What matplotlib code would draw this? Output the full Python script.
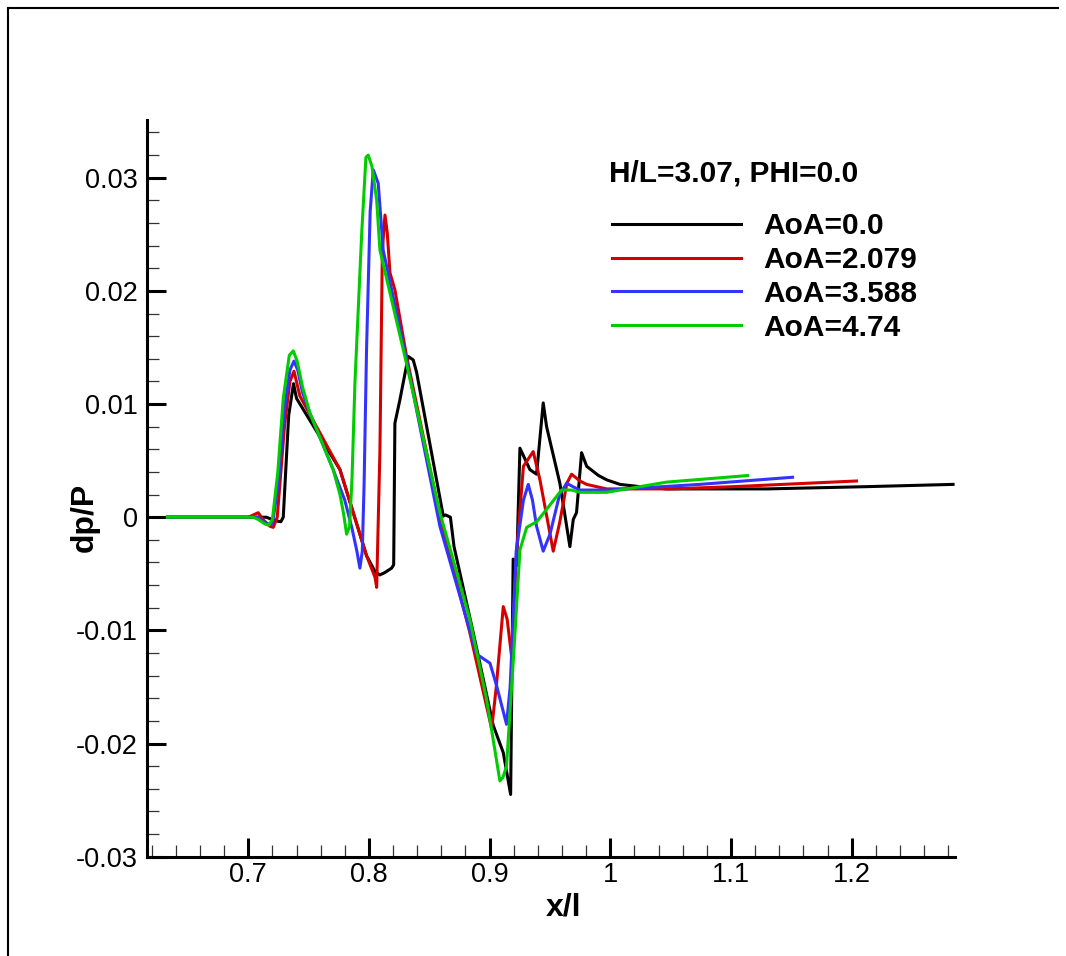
import matplotlib
matplotlib.use("Agg")
import matplotlib.pyplot as plt
from matplotlib.lines import Line2D
from matplotlib.ticker import FixedLocator, MultipleLocator, FixedFormatter

plt.rcParams['font.family'] = ['Liberation Sans', 'DejaVu Sans']
plt.rcParams['axes.unicode_minus'] = False

# ---------------- data ----------------
x_aoa0 = [0.633, 0.715, 0.722, 0.727, 0.729, 0.7335, 0.7375, 0.740, 0.776, 0.798, 0.805, 0.809,
          0.813, 0.8188, 0.8205, 0.8215, 0.8257, 0.8326, 0.8367, 0.8395, 0.8616, 0.8635, 0.8675,
          0.8705, 0.8864, 0.903, 0.9113, 0.9174, 0.9195, 0.9224, 0.9251, 0.9334, 0.9389, 0.9444,
          0.9472, 0.9582, 0.9665, 0.9693, 0.9720, 0.9762, 0.9804, 0.9900, 0.997, 1.008, 1.0245,
          1.0466, 1.1295, 1.2123, 1.284]
y_aoa0 = [0.0, 0.0, -0.0003, -0.0004, 0.0, 0.009, 0.0118, 0.0105, 0.0042, -0.0034, -0.0048, -0.0051,
          -0.0049, -0.0045, -0.0042, 0.0083, 0.0104, 0.0142, 0.0139, 0.0128, 0.0001, 0.0002, 0.0,
          -0.0026, -0.0102, -0.0184, -0.0208, -0.0245, -0.0037, -0.0043, 0.0061, 0.0042, 0.0038, 0.0101,
          0.0080, 0.0030, -0.0026, -0.0002, 0.0004, 0.0057, 0.0045, 0.0037, 0.0033, 0.0029, 0.0027,
          0.0025, 0.0025, 0.0027, 0.0029]

x_aoa2 = [0.633, 0.700, 0.7083, 0.712, 0.718, 0.7207, 0.724, 0.730, 0.7345, 0.7379, 0.7428, 0.776,
          0.798, 0.805, 0.8064, 0.8091, 0.8111, 0.8133, 0.8152, 0.8174, 0.8215, 0.8312, 0.8588,
          0.8836, 0.9017, 0.9055, 0.9113, 0.9145, 0.9182, 0.9224, 0.928, 0.9361, 0.9417, 0.9527,
          0.9580, 0.9640, 0.9679, 0.9748, 0.9804, 0.997, 1.05, 1.1018, 1.204]
y_aoa2 = [0.0, 0.0, 0.0004, -0.0002, -0.0008, -0.0009, 0.0, 0.008, 0.0120, 0.0129, 0.0107, 0.0042,
          -0.0034, -0.0053, -0.0062, 0.0059, 0.0236, 0.0267, 0.0251, 0.0216, 0.0201, 0.0142, 0.0001,
          -0.0102, -0.0187, -0.0150, -0.0079, -0.0090, -0.0123, -0.0030, 0.0045, 0.0058, 0.0033, -0.0030,
          -0.0005, 0.0030, 0.0038, 0.0032, 0.0029, 0.0025, 0.0025, 0.0027, 0.0032]

x_aoa3 = [0.633, 0.708, 0.7152, 0.720, 0.725, 0.730, 0.7345, 0.7379, 0.7410, 0.7450, 0.751, 0.770,
          0.780, 0.786, 0.790, 0.7925, 0.7945, 0.7960, 0.798, 0.801, 0.8036, 0.8077, 0.8118, 0.8306,
          0.8588, 0.8892, 0.9003, 0.9058, 0.914, 0.917, 0.922, 0.928, 0.932, 0.9355, 0.9389, 0.9444,
          0.950, 0.9580, 0.9638, 0.9690, 0.9748, 0.997, 1.074, 1.151]
y_aoa3 = [0.0, 0.0, -0.0006, -0.0006, 0.003, 0.0095, 0.0130, 0.0138, 0.0130, 0.0110, 0.0092, 0.0043,
          0.0015, -0.0010, -0.0030, -0.0045, -0.0030, 0.0030, 0.0148, 0.0270, 0.0307, 0.0295, 0.0236,
          0.0142, -0.0008, -0.0121, -0.0129, -0.0149, -0.0183, -0.0150, -0.003, 0.0015, 0.0029, 0.0015,
          -0.0008, -0.0030, -0.0015, 0.0020, 0.0030, 0.0027, 0.0024, 0.0024, 0.0029, 0.00353]

x_aoa4 = [0.633, 0.704, 0.7083, 0.7138, 0.717, 0.720, 0.7245, 0.729, 0.7340, 0.7373, 0.7405, 0.7450,
          0.7511, 0.7704, 0.7760, 0.7790, 0.7815, 0.7840, 0.7860, 0.7884, 0.794, 0.7975, 0.7994,
          0.8025, 0.8064, 0.8091, 0.8298, 0.8588, 0.8836, 0.8975, 0.9085, 0.911, 0.914, 0.920, 0.9251,
          0.9307, 0.939, 0.9472, 0.9596, 0.9680, 0.9748, 0.997, 1.0466, 1.1137]
y_aoa4 = [0.0, 0.0, -0.0002, -0.0006, -0.0007, -0.0002, 0.004, 0.0105, 0.0143, 0.0147, 0.0138, 0.0115,
          0.0092, 0.0042, 0.0020, 0.0003, -0.0015, -0.0008, 0.0035, 0.0119, 0.0251, 0.0318, 0.0320,
          0.0310, 0.0280, 0.0236, 0.0142, 0.0004, -0.0090, -0.0161, -0.0233, -0.0230, -0.0220, -0.0120,
          -0.0029, -0.0009, -0.0004, 0.0007, 0.0024, 0.0024, 0.0022, 0.0022, 0.0031, 0.00368]

series_labels = ["AoA=0.0", "AoA=2.079", "AoA=3.588", "AoA=4.74"]
series_colors = ["#000000", "#d40000", "#3333ff", "#00cc00"]
legend_title = "H/L=3.07, PHI=0.0"

x_ticks = [0.7, 0.8, 0.9, 1.0, 1.1, 1.2]
x_tick_labels = ["0.7", "0.8", "0.9", "1", "1.1", "1.2"]
y_ticks = [-0.03, -0.02, -0.01, 0.0, 0.01, 0.02, 0.03]
y_tick_labels = ["-0.03", "-0.02", "-0.01", "0", "0.01", "0.02", "0.03"]

# ---------------- figure ----------------
W, H = 1066, 956
fig = plt.figure(figsize=(W / 100, H / 100), dpi=100)
ax = fig.add_axes([147 / W, (H - 856.7) / H, 808 / W, 736.7 / H])

xs = [x_aoa0, x_aoa2, x_aoa3, x_aoa4]
ys = [y_aoa0, y_aoa2, y_aoa3, y_aoa4]
handles = []
for xv, yv, c, lab in zip(xs, ys, series_colors, series_labels):
    ln, = ax.plot(xv, yv, color=c, lw=2.2, label=lab, solid_joinstyle='round')
    handles.append(ln)

ax.set_xlim(0.6161, 1.2856)
ax.set_ylim(-0.0300, 0.0351)

for s in ['top', 'right']:
    ax.spines[s].set_visible(False)
for s in ['left', 'bottom']:
    ax.spines[s].set_linewidth(2.2)

ax.xaxis.set_major_locator(FixedLocator(x_ticks))
ax.xaxis.set_major_formatter(FixedFormatter(x_tick_labels))
ax.yaxis.set_major_locator(FixedLocator(y_ticks))
ax.yaxis.set_major_formatter(FixedFormatter(y_tick_labels))
ax.xaxis.set_minor_locator(MultipleLocator(0.02))
ax.yaxis.set_minor_locator(MultipleLocator(0.002))

ax.tick_params(which='major', direction='in', length=13.7, width=2.2, labelsize=19.5, pad=4)
ax.tick_params(which='minor', direction='in', length=8.6, width=0.9, color='#333333')
ax.tick_params(axis='y', which='major', pad=6.5)

ax.set_xlabel("x/l", fontsize=23, fontweight='bold')
ax.xaxis.set_label_coords((564 - 147) / 808, (856.7 - 908) / 736.7)
ax.xaxis.label.set_va('center')
ax.set_ylabel("dp/P", fontsize=23, fontweight='bold')
ax.yaxis.set_label_coords((85 - 147) / 808, (856.7 - 517) / 736.7)
ax.yaxis.label.set_va('center')

# legend
ax.text((609 - 147) / 808, (856.7 - 182) / 736.7, legend_title, transform=ax.transAxes,
        fontsize=21.5, fontweight='bold', ha='left', va='baseline')
leg = ax.legend(handles=handles, loc='upper left',
                bbox_to_anchor=((612 - 147) / 808, (856.7 - 212) / 736.7),
                frameon=False, handlelength=4.31, handletextpad=0.74, labelspacing=0.20,
                borderpad=0, borderaxespad=0,
                prop={'size': 21.5, 'weight': 'bold'})

# figure frame (top and left edges)
fig.add_artist(Line2D([8 / W, 1058 / W], [1 - 8 / H, 1 - 8 / H], transform=fig.transFigure,
                      color='black', lw=1.5))
fig.add_artist(Line2D([8 / W, 8 / W], [0, 1 - 8 / H], transform=fig.transFigure,
                      color='black', lw=1.5))

fig.savefig("out.png", dpi=100)
